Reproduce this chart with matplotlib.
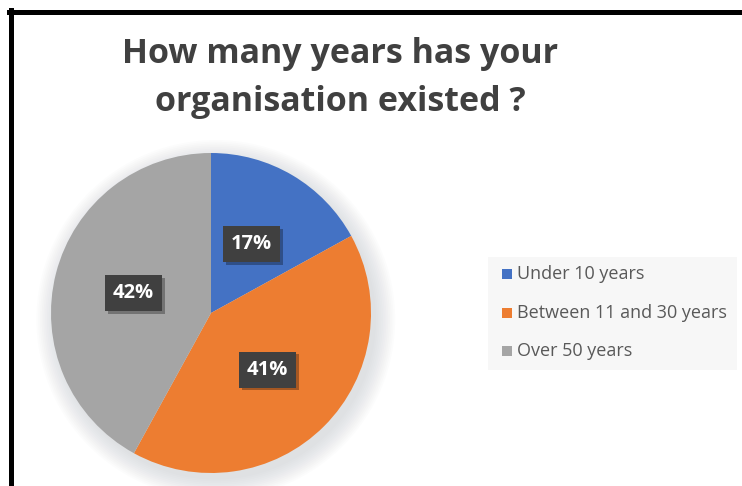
import matplotlib

matplotlib.use("Agg")

import matplotlib.pyplot as plt
from matplotlib import patheffects
from matplotlib.patches import Circle, Rectangle

categories = ["Under 10 years", "Between 11 and 30 years", "Over 50 years"]
shares = [17, 41, 42]
colors = ["#4472C4", "#ED7D31", "#A5A5A5"]

FONT = "Open Sans"
W, H = 742, 486
fig = plt.figure(figsize=(W / 100, H / 100), dpi=100)
fig.patch.set_facecolor("white")

# pie axes: centre (211, 313) px, radius 160 px
R_PX, CX, CY = 160, 211, 313
span = 1.25
ax = fig.add_axes([(CX - R_PX * span) / W, (H - CY - R_PX * span) / H,
                   2 * R_PX * span / W, 2 * R_PX * span / H])
ax.set_xlim(-span, span)
ax.set_ylim(-span, span)
ax.set_aspect("equal")
ax.axis("off")

# soft drop shadow behind the pie, falling to the lower right
for i in range(12):
    r = 1.0 + 0.011 * i
    ax.add_patch(Circle((0.03, -0.04), r, facecolor="#a8aeb6",
                        edgecolor="none", alpha=0.03, zorder=0, clip_on=False))

wedges, _, autotexts = ax.pie(
    shares, colors=colors, startangle=90, counterclock=False, radius=1.0,
    autopct="%d%%", pctdistance=0.5,
    wedgeprops=dict(linewidth=0), textprops=dict(color="white"),
)
for t in autotexts:
    t.set_fontsize(14.5)
    t.set_fontweight("bold")
    t.set_family(FONT)
    t.set_bbox(dict(boxstyle="square,pad=0.4", facecolor="#404040", edgecolor="none"))
    t.get_bbox_patch().set_path_effects([
        patheffects.SimplePatchShadow(offset=(2, -2), shadow_rgbFace="#000000", alpha=0.3),
        patheffects.Normal(),
    ])

fig.text(340 / W, 1 - 78 / H, "How many years has your\norganisation existed ?",
         ha="center", va="center", fontsize=24.5, fontweight="bold", family=FONT,
         color="#404040", linespacing=1.55)

# legend panel
fig.patches.append(Rectangle((488 / W, 1 - 370 / H), 249 / W, 113 / H,
                             transform=fig.transFigure, facecolor="#f7f7f7",
                             edgecolor="none", zorder=0))
for i, (name, c) in enumerate(zip(categories, colors)):
    y = 274 + i * 38.5
    fig.patches.append(Rectangle((502 / W, 1 - (y + 5) / H), 10 / W, 10 / H,
                                 transform=fig.transFigure, facecolor=c,
                                 edgecolor="none", zorder=1))
    fig.text(517 / W, 1 - y / H, name, ha="left", va="center", fontsize=13,
             family=FONT, color="#595959")

# black frame (left and top edges)
fig.add_artist(plt.Line2D([10.5 / W, 10.5 / W], [0, 1 - 10 / H], color="black",
                          linewidth=3.6, transform=fig.transFigure))
fig.add_artist(plt.Line2D([8.7 / W, 1], [1 - 12.5 / H, 1 - 12.5 / H], color="black",
                          linewidth=3.6, transform=fig.transFigure))

fig.savefig("out.png", dpi=100)
